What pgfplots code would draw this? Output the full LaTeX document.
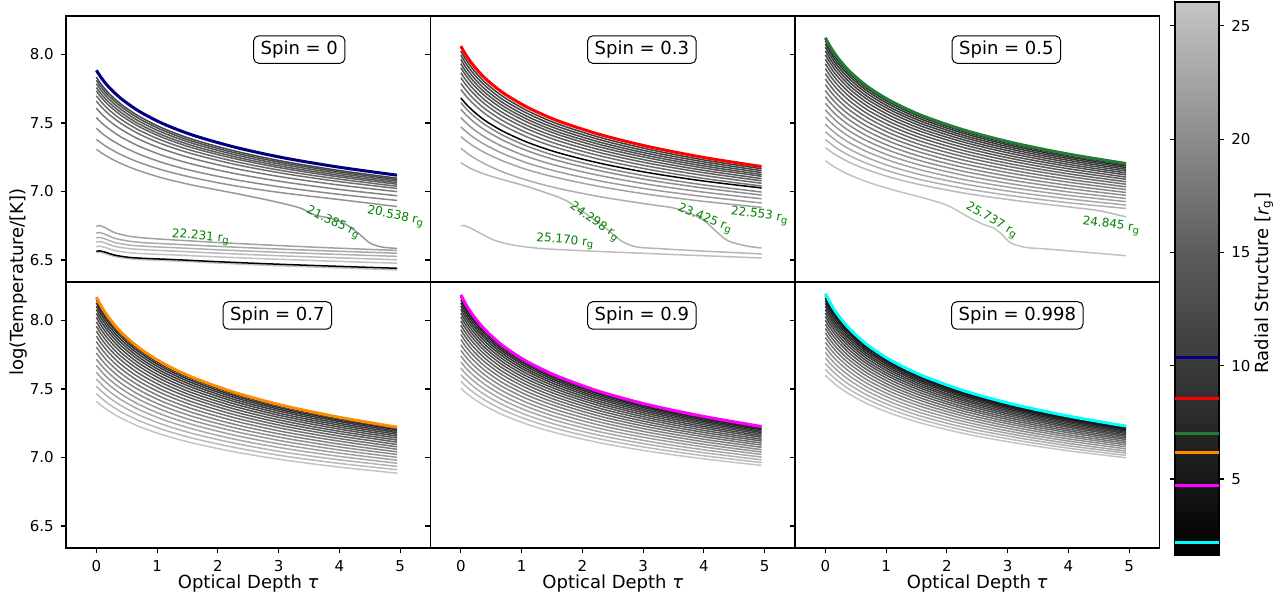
\documentclass[border=0pt]{standalone}
\usepackage{pgfplots}
\pgfplotsset{compat=1.18}
\usepackage{fontspec}
\setmainfont{DejaVu Sans}
\definecolor{cnavy}{RGB}{0,0,128}
\definecolor{cgreen}{RGB}{34,125,55}
\definecolor{corange}{RGB}{255,140,0}
\definecolor{cmag}{RGB}{255,0,255}
\definecolor{ccyan}{RGB}{0,255,255}
\definecolor{cred}{RGB}{255,0,0}
\definecolor{lgreen}{RGB}{0,128,0}
\pgfplotsset{
 colormap={rad}{gray(0pt)=(0); gray(43.5pt)=(0.12); gray(88.5pt)=(0.24); gray(133.5pt)=(0.36); gray(183.5pt)=(0.55); gray(244pt)=(0.77)},
 gl/.style={line width=0.75pt, smooth},
 cl/.style={line width=1.5pt, smooth},
 pan/.style={scale only axis, width=182.25pt, height=133pt, anchor=south west,
   xmin=-0.5, xmax=5.5, ymin=6.34, ymax=8.28, tick align=outside, major tick length=2.6pt,
   axis line style={line width=0.6pt}, tick style={black, line width=0.6pt},
   ytick={6.5,7,7.5,8}, xtick={0,1,2,3,4,5}, xtick pos=bottom, ytick pos=left, no markers,
   ticklabel style={font=\fontsize{7.5}{9}\selectfont}},
 ylab/.style={yticklabels={6.5,7.0,7.5,8.0}},
 noylab/.style={yticklabel=\empty},
 xlab/.style={xticklabels={0,1,2,3,4,5}},
 top/.style={xtick=\empty},
}
\tikzset{
 spin/.style={draw=black, line width=0.5pt, rounded corners=2.5pt, fill=white, inner xsep=3.5pt, inner ysep=2.5pt, font=\fontsize{9}{11}\selectfont},
 lab/.style={text=lgreen, font=\fontsize{6}{7}\selectfont, inner sep=0pt},
 big/.style={font=\fontsize{9}{11}\selectfont},
}
\begin{document}
\begin{tikzpicture}
\useasboundingbox (0,0) rectangle (640.5pt,299.5pt);
% ---------------- Spin 0
\begin{axis}[pan, top, ylab, at={(33pt,158.5pt)}]
\addplot[black!23,gl] coordinates {(0,6.553)(.05,6.557)(.15,6.547)(.3,6.526)(.55,6.509)(.85,6.501)(1.3,6.493)(2,6.478)(2.8,6.462)(3.8,6.446)(4.95,6.428)};
\addplot[black,gl] coordinates {(0,6.563)(.05,6.567)(.15,6.557)(.3,6.536)(.55,6.519)(.85,6.511)(1.3,6.503)(2,6.488)(2.8,6.473)(3.8,6.457)(4.95,6.440)};
\addplot[black!24,gl] coordinates {(0,6.597)(.05,6.601)(.15,6.591)(.3,6.570)(.55,6.553)(.85,6.545)(1.3,6.537)(2,6.523)(2.8,6.509)(3.8,6.493)(4.95,6.477)};
\addplot[black!27,gl] coordinates {(0,6.630)(.05,6.635)(.15,6.624)(.3,6.600)(.55,6.583)(.85,6.574)(1.3,6.565)(2,6.550)(2.8,6.535)(3.8,6.519)(4.95,6.502)};
\addplot[black!31,gl] coordinates {(0,6.660)(.05,6.665)(.15,6.653)(.3,6.628)(.55,6.609)(.85,6.599)(1.3,6.590)(2,6.575)(2.8,6.560)(3.8,6.544)(4.95,6.527)};
\addplot[black!34,gl] coordinates {(0,6.695)(.05,6.701)(.15,6.687)(.3,6.659)(.55,6.637)(.85,6.625)(1.3,6.615)(2,6.600)(2.8,6.584)(3.8,6.567)(4.95,6.550)};
\addplot[black!37,gl] coordinates {(0,6.745)(.05,6.752)(.15,6.735)(.3,6.700)(.55,6.673)(.85,6.659)(1.3,6.646)(2,6.628)(2.8,6.610)(3.8,6.590)(4.95,6.570)};
\addplot[black!40,gl] coordinates {(0,7.308)(.08,7.283)(.2,7.25)(.4,7.205)(.7,7.152)(1.1,7.097)(1.6,7.045)(2.3,6.985)(2.9,6.93)(3.35,6.88)(3.6,6.828)(3.8,6.81)(4.05,6.775)(4.3,6.70)(4.5,6.625)(4.7,6.595)(4.95,6.585)};
\addplot[black!43,gl] coordinates {(0,7.380)(.08,7.353)(.2,7.318)(.4,7.270)(.7,7.213)(1.1,7.155)(1.6,7.100)(2.3,7.040)(3.1,6.988)(4,6.941)(4.95,6.890)};
\addplot[black!46,gl] coordinates {(0,7.461)(.08,7.429)(.2,7.389)(.4,7.336)(.7,7.273)(1.1,7.209)(1.6,7.149)(2.3,7.085)(3.1,7.029)(4,6.979)(4.95,6.935)};
\addplot[black!49,gl] coordinates {(0,7.539)(.08,7.503)(.2,7.459)(.4,7.399)(.7,7.331)(1.1,7.262)(1.6,7.197)(2.3,7.129)(3.1,7.069)(4,7.015)(4.95,6.969)};
\addplot[black!53,gl] coordinates {(0,7.607)(.08,7.568)(.2,7.519)(.4,7.455)(.7,7.381)(1.1,7.308)(1.6,7.239)(2.3,7.166)(3.1,7.103)(4,7.047)(4.95,6.999)};
\addplot[black!56,gl] coordinates {(0,7.660)(.08,7.618)(.2,7.566)(.4,7.498)(.7,7.420)(1.1,7.343)(1.6,7.272)(2.3,7.196)(3.1,7.130)(4,7.072)(4.95,7.022)};
\addplot[black!59,gl] coordinates {(0,7.698)(.08,7.654)(.2,7.599)(.4,7.528)(.7,7.448)(1.1,7.369)(1.6,7.295)(2.3,7.217)(3.1,7.149)(4,7.090)(4.95,7.038)};
\addplot[black!62,gl] coordinates {(0,7.733)(.08,7.687)(.2,7.630)(.4,7.557)(.7,7.474)(1.1,7.392)(1.6,7.316)(2.3,7.237)(3.1,7.167)(4,7.106)(4.95,7.053)};
\addplot[black!65,gl] coordinates {(0,7.758)(.08,7.711)(.2,7.653)(.4,7.578)(.7,7.493)(1.1,7.409)(1.6,7.332)(2.3,7.251)(3.1,7.180)(4,7.118)(4.95,7.064)};
\addplot[black!67,gl] coordinates {(0,7.786)(.08,7.737)(.2,7.677)(.4,7.600)(.7,7.513)(1.1,7.428)(1.6,7.349)(2.3,7.266)(3.1,7.194)(4,7.131)(4.95,7.076)};
\addplot[black!70,gl] coordinates {(0,7.811)(.08,7.761)(.2,7.699)(.4,7.621)(.7,7.532)(1.1,7.445)(1.6,7.364)(2.3,7.280)(3.1,7.207)(4,7.143)(4.95,7.087)};
\addplot[black!72,gl] coordinates {(0,7.834)(.08,7.782)(.2,7.719)(.4,7.639)(.7,7.549)(1.1,7.460)(1.6,7.378)(2.3,7.293)(3.1,7.218)(4,7.153)(4.95,7.097)};
\addplot[cnavy,cl] coordinates {(0,7.884)(.08,7.830)(.2,7.764)(.4,7.680)(.7,7.586)(1.1,7.494)(1.6,7.409)(2.3,7.321)(3.1,7.244)(4,7.177)(4.95,7.119)};
\node[spin] at (axis cs:3.34,8.035) {Spin = 0};
\node[lab,rotate=-5] at (axis cs:1.72,6.665) {22.231 r\textsubscript{g}};
\node[lab,rotate=-25] at (axis cs:3.90,6.770) {21.385 r\textsubscript{g}};
\node[lab,rotate=-12] at (axis cs:4.93,6.815) {20.538 r\textsubscript{g}};
\end{axis}
% ---------------- Spin 0.3
\begin{axis}[pan, top, noylab, at={(215.25pt,158.5pt)}]
\addplot[black!26,gl] coordinates {(0,6.750)(.05,6.752)(.15,6.735)(.3,6.700)(.55,6.645)(.85,6.610)(1.3,6.585)(2,6.568)(2.8,6.553)(3.8,6.535)(4.95,6.515)};
\addplot[black!29,gl] coordinates {(0,7.21)(.08,7.188)(.2,7.16)(.4,7.125)(.7,7.085)(1.1,7.035)(1.6,6.96)(1.75,6.93)(2.05,6.84)(2.35,6.745)(2.55,6.67)(2.7,6.625)(2.9,6.595)(3.2,6.585)(4,6.565)(4.95,6.545)};
\addplot[black!32,gl] coordinates {(0,7.315)(.08,7.287)(.2,7.25)(.4,7.2)(.7,7.141)(1.1,7.081)(1.6,7.023)(2.3,6.961)(3.1,6.906)(3.5,6.88)(3.8,6.835)(4,6.79)(4.2,6.71)(4.4,6.64)(4.7,6.603)(4.95,6.588)};
\addplot[black!36,gl] coordinates {(0,7.400)(.08,7.371)(.2,7.333)(.4,7.282)(.7,7.221)(1.1,7.158)(1.6,7.099)(2.3,7.035)(3.1,6.978)(4,6.928)(4.95,6.884)};
\addplot[black!39,gl] coordinates {(0,7.471)(.08,7.439)(.2,7.397)(.4,7.341)(.7,7.275)(1.1,7.207)(1.6,7.144)(2.3,7.076)(3.1,7.016)(4,6.963)(4.95,6.916)};
\addplot[black!42,gl] coordinates {(0,7.539)(.08,7.503)(.2,7.457)(.4,7.396)(.7,7.325)(1.1,7.253)(1.6,7.186)(2.3,7.115)(3.1,7.051)(4,6.995)(4.95,6.947)};
\addplot[black!45,gl] coordinates {(0,7.600)(.08,7.561)(.2,7.512)(.4,7.447)(.7,7.372)(1.1,7.296)(1.6,7.225)(2.3,7.150)(3.1,7.083)(4,7.025)(4.95,6.974)};
\addplot[black!48,gl] coordinates {(0,7.648)(.08,7.607)(.2,7.555)(.4,7.486)(.7,7.408)(1.1,7.329)(1.6,7.255)(2.3,7.178)(3.1,7.109)(4,7.048)(4.95,6.996)};
\addplot[black!55,gl] coordinates {(0,7.745)(.08,7.699)(.2,7.642)(.4,7.566)(.7,7.481)(1.1,7.396)(1.6,7.317)(2.3,7.233)(3.1,7.160)(4,7.095)(4.95,7.040)};
\addplot[black!58,gl] coordinates {(0,7.789)(.08,7.741)(.2,7.681)(.4,7.602)(.7,7.514)(1.1,7.426)(1.6,7.344)(2.3,7.259)(3.1,7.183)(4,7.117)(4.95,7.060)};
\addplot[black!62,gl] coordinates {(0,7.830)(.08,7.780)(.2,7.718)(.4,7.636)(.7,7.545)(1.1,7.455)(1.6,7.370)(2.3,7.282)(3.1,7.205)(4,7.137)(4.95,7.078)};
\addplot[black!65,gl] coordinates {(0,7.866)(.08,7.814)(.2,7.750)(.4,7.665)(.7,7.572)(1.1,7.479)(1.6,7.393)(2.3,7.303)(3.1,7.224)(4,7.154)(4.95,7.094)};
\addplot[black!67,gl] coordinates {(0,7.902)(.08,7.848)(.2,7.781)(.4,7.695)(.7,7.599)(1.1,7.504)(1.6,7.415)(2.3,7.323)(3.1,7.243)(4,7.171)(4.95,7.111)};
\addplot[black!69,gl] coordinates {(0,7.932)(.08,7.876)(.2,7.809)(.4,7.720)(.7,7.622)(1.1,7.525)(1.6,7.434)(2.3,7.341)(3.1,7.259)(4,7.186)(4.95,7.124)};
\addplot[black!72,gl] coordinates {(0,7.963)(.08,7.906)(.2,7.836)(.4,7.745)(.7,7.645)(1.1,7.546)(1.6,7.454)(2.3,7.358)(3.1,7.275)(4,7.201)(4.95,7.138)};
\addplot[black!74,gl] coordinates {(0,7.994)(.08,7.935)(.2,7.864)(.4,7.771)(.7,7.668)(1.1,7.568)(1.6,7.473)(2.3,7.376)(3.1,7.291)(4,7.216)(4.95,7.152)};
\addplot[black!76,gl] coordinates {(0,8.024)(.08,7.964)(.2,7.891)(.4,7.795)(.7,7.691)(1.1,7.588)(1.6,7.492)(2.3,7.393)(3.1,7.307)(4,7.230)(4.95,7.166)};
\addplot[black,gl] coordinates {(0,7.682)(.08,7.640)(.2,7.588)(.4,7.517)(.7,7.438)(1.1,7.358)(1.6,7.283)(2.3,7.205)(3.1,7.136)(4,7.076)(4.95,7.026)};
\addplot[cred,cl] coordinates {(0,8.060)(.08,7.998)(.2,7.923)(.4,7.825)(.7,7.718)(1.1,7.613)(1.6,7.515)(2.3,7.414)(3.1,7.326)(4,7.248)(4.95,7.182)};
\node[spin] at (axis cs:2.98,8.035) {Spin = 0.3};
\node[lab,rotate=-5] at (axis cs:1.72,6.637) {25.170 r\textsubscript{g}};
\node[lab,rotate=-35] at (axis cs:2.20,6.775) {24.298 r\textsubscript{g}};
\node[lab,rotate=-22] at (axis cs:4.02,6.799) {23.425 r\textsubscript{g}};
\node[lab,rotate=-8] at (axis cs:4.92,6.823) {22.553 r\textsubscript{g}};
\end{axis}
% ---------------- Spin 0.5
\begin{axis}[pan, top, noylab, at={(397.5pt,158.5pt)}]
\addplot[black!24,gl] coordinates {(0,7.224)(.08,7.199)(.2,7.166)(.4,7.121)(.7,7.068)(1.1,7.013)(1.6,6.955)(2,6.9)(2.35,6.815)(2.6,6.76)(2.75,6.738)(2.9,6.69)(3.05,6.625)(3.3,6.592)(3.6,6.582)(4.2,6.56)(4.95,6.532)};
\addplot[black!27,gl] coordinates {(0,7.32)(.08,7.294)(.2,7.259)(.4,7.212)(.7,7.157)(1.1,7.1)(1.6,7.046)(2.3,6.987)(3.1,6.936)(4,6.888)(4.5,6.86)(4.95,6.815)};
\addplot[black!31,gl] coordinates {(0,7.379)(.08,7.351)(.2,7.312)(.4,7.261)(.7,7.202)(1.1,7.141)(1.6,7.083)(2.3,7.021)(3.1,6.967)(4,6.918)(4.95,6.876)};
\addplot[black!34,gl] coordinates {(0,7.436)(.08,7.405)(.2,7.363)(.4,7.308)(.7,7.245)(1.1,7.180)(1.6,7.119)(2.3,7.054)(3.1,6.997)(4,6.946)(4.95,6.901)};
\addplot[black!37,gl] coordinates {(0,7.491)(.08,7.457)(.2,7.413)(.4,7.354)(.7,7.287)(1.1,7.219)(1.6,7.154)(2.3,7.085)(3.1,7.026)(4,6.972)(4.95,6.926)};
\addplot[black!40,gl] coordinates {(0,7.544)(.08,7.508)(.2,7.460)(.4,7.398)(.7,7.327)(1.1,7.255)(1.6,7.188)(2.3,7.116)(3.1,7.053)(4,6.997)(4.95,6.949)};
\addplot[black!44,gl] coordinates {(0,7.596)(.08,7.557)(.2,7.506)(.4,7.440)(.7,7.366)(1.1,7.291)(1.6,7.220)(2.3,7.145)(3.1,7.080)(4,7.022)(4.95,6.972)};
\addplot[black!47,gl] coordinates {(0,7.644)(.08,7.603)(.2,7.550)(.4,7.481)(.7,7.402)(1.1,7.324)(1.6,7.251)(2.3,7.173)(3.1,7.105)(4,7.045)(4.95,6.993)};
\addplot[black!50,gl] coordinates {(0,7.692)(.08,7.648)(.2,7.593)(.4,7.520)(.7,7.438)(1.1,7.357)(1.6,7.281)(2.3,7.200)(3.1,7.130)(4,7.068)(4.95,7.014)};
\addplot[black!54,gl] coordinates {(0,7.737)(.08,7.691)(.2,7.633)(.4,7.557)(.7,7.472)(1.1,7.388)(1.6,7.309)(2.3,7.226)(3.1,7.153)(4,7.089)(4.95,7.034)};
\addplot[black!57,gl] coordinates {(0,7.780)(.08,7.732)(.2,7.672)(.4,7.593)(.7,7.505)(1.1,7.418)(1.6,7.336)(2.3,7.251)(3.1,7.176)(4,7.110)(4.95,7.053)};
\addplot[black!60,gl] coordinates {(0,7.821)(.08,7.771)(.2,7.708)(.4,7.627)(.7,7.536)(1.1,7.446)(1.6,7.362)(2.3,7.274)(3.1,7.197)(4,7.129)(4.95,7.071)};
\addplot[black!64,gl] coordinates {(0,7.860)(.08,7.808)(.2,7.744)(.4,7.660)(.7,7.565)(1.1,7.473)(1.6,7.387)(2.3,7.296)(3.1,7.218)(4,7.148)(4.95,7.089)};
\addplot[black!66,gl] coordinates {(0,7.897)(.08,7.843)(.2,7.777)(.4,7.690)(.7,7.593)(1.1,7.499)(1.6,7.410)(2.3,7.318)(3.1,7.237)(4,7.166)(4.95,7.105)};
\addplot[black!69,gl] coordinates {(0,7.932)(.08,7.877)(.2,7.808)(.4,7.719)(.7,7.620)(1.1,7.523)(1.6,7.433)(2.3,7.338)(3.1,7.255)(4,7.183)(4.95,7.121)};
\addplot[black!71,gl] coordinates {(0,7.965)(.08,7.908)(.2,7.838)(.4,7.747)(.7,7.645)(1.1,7.546)(1.6,7.453)(2.3,7.357)(3.1,7.273)(4,7.198)(4.95,7.135)};
\addplot[black!73,gl] coordinates {(0,7.996)(.08,7.938)(.2,7.866)(.4,7.772)(.7,7.669)(1.1,7.568)(1.6,7.473)(2.3,7.374)(3.1,7.289)(4,7.213)(4.95,7.149)};
\addplot[black!76,gl] coordinates {(0,8.025)(.08,7.965)(.2,7.892)(.4,7.796)(.7,7.690)(1.1,7.588)(1.6,7.491)(2.3,7.391)(3.1,7.304)(4,7.227)(4.95,7.162)};
\addplot[black!78,gl] coordinates {(0,8.052)(.08,7.991)(.2,7.916)(.4,7.819)(.7,7.711)(1.1,7.606)(1.6,7.508)(2.3,7.406)(3.1,7.318)(4,7.240)(4.95,7.174)};
\addplot[black!81,gl] coordinates {(0,8.077)(.08,8.015)(.2,7.938)(.4,7.840)(.7,7.730)(1.1,7.624)(1.6,7.524)(2.3,7.421)(3.1,7.331)(4,7.252)(4.95,7.185)};
\addplot[black!83,gl] coordinates {(0,8.100)(.08,8.037)(.2,7.959)(.4,7.859)(.7,7.747)(1.1,7.640)(1.6,7.539)(2.3,7.434)(3.1,7.343)(4,7.263)(4.95,7.195)};
\addplot[cgreen,cl] coordinates {(0,8.121)(.08,8.057)(.2,7.978)(.4,7.876)(.7,7.763)(1.1,7.654)(1.6,7.552)(2.3,7.446)(3.1,7.354)(4,7.273)(4.95,7.204)};
\node[spin] at (axis cs:2.98,8.035) {Spin = 0.5};
\node[lab,rotate=-30] at (axis cs:2.74,6.787) {25.737 r\textsubscript{g}};
\node[lab,rotate=-8] at (axis cs:4.71,6.75) {24.845 r\textsubscript{g}};
\end{axis}
% ---------------- Spin 0.7
\begin{axis}[pan, ylab, xlab, at={(33pt,25.5pt)}]
\addplot[black!23,gl] coordinates {(0,7.409)(.08,7.380)(.2,7.341)(.4,7.289)(.7,7.227)(1.1,7.164)(1.6,7.104)(2.3,7.039)(3.1,6.981)(4,6.930)(4.95,6.886)};
\addplot[black!27,gl] coordinates {(0,7.465)(.08,7.434)(.2,7.391)(.4,7.335)(.7,7.269)(1.1,7.203)(1.6,7.139)(2.3,7.071)(3.1,7.010)(4,6.957)(4.95,6.911)};
\addplot[black!30,gl] coordinates {(0,7.519)(.08,7.485)(.2,7.440)(.4,7.380)(.7,7.310)(1.1,7.240)(1.6,7.173)(2.3,7.102)(3.1,7.038)(4,6.983)(4.95,6.935)};
\addplot[black!34,gl] coordinates {(0,7.572)(.08,7.535)(.2,7.487)(.4,7.423)(.7,7.350)(1.1,7.276)(1.6,7.206)(2.3,7.131)(3.1,7.066)(4,7.008)(4.95,6.958)};
\addplot[black!38,gl] coordinates {(0,7.622)(.08,7.582)(.2,7.532)(.4,7.465)(.7,7.387)(1.1,7.310)(1.6,7.238)(2.3,7.160)(3.1,7.092)(4,7.032)(4.95,6.980)};
\addplot[black!41,gl] coordinates {(0,7.671)(.08,7.629)(.2,7.575)(.4,7.505)(.7,7.424)(1.1,7.344)(1.6,7.268)(2.3,7.188)(3.1,7.117)(4,7.055)(4.95,7.001)};
\addplot[black!45,gl] coordinates {(0,7.717)(.08,7.673)(.2,7.617)(.4,7.543)(.7,7.459)(1.1,7.375)(1.6,7.297)(2.3,7.214)(3.1,7.141)(4,7.077)(4.95,7.022)};
\addplot[black!49,gl] coordinates {(0,7.762)(.08,7.716)(.2,7.657)(.4,7.580)(.7,7.493)(1.1,7.406)(1.6,7.325)(2.3,7.239)(3.1,7.164)(4,7.098)(4.95,7.041)};
\addplot[black!52,gl] coordinates {(0,7.805)(.08,7.756)(.2,7.695)(.4,7.615)(.7,7.525)(1.1,7.435)(1.6,7.352)(2.3,7.264)(3.1,7.186)(4,7.119)(4.95,7.060)};
\addplot[black!56,gl] coordinates {(0,7.846)(.08,7.795)(.2,7.732)(.4,7.649)(.7,7.556)(1.1,7.464)(1.6,7.378)(2.3,7.287)(3.1,7.208)(4,7.138)(4.95,7.078)};
\addplot[black!60,gl] coordinates {(0,7.885)(.08,7.832)(.2,7.767)(.4,7.681)(.7,7.585)(1.1,7.490)(1.6,7.402)(2.3,7.309)(3.1,7.228)(4,7.157)(4.95,7.095)};
\addplot[black!64,gl] coordinates {(0,7.922)(.08,7.867)(.2,7.800)(.4,7.712)(.7,7.613)(1.1,7.516)(1.6,7.426)(2.3,7.330)(3.1,7.247)(4,7.175)(4.95,7.112)};
\addplot[black!66,gl] coordinates {(0,7.957)(.08,7.901)(.2,7.831)(.4,7.740)(.7,7.640)(1.1,7.540)(1.6,7.447)(2.3,7.350)(3.1,7.265)(4,7.191)(4.95,7.127)};
\addplot[black!69,gl] coordinates {(0,7.990)(.08,7.932)(.2,7.861)(.4,7.768)(.7,7.665)(1.1,7.563)(1.6,7.468)(2.3,7.369)(3.1,7.283)(4,7.207)(4.95,7.142)};
\addplot[black!72,gl] coordinates {(0,8.022)(.08,7.962)(.2,7.889)(.4,7.794)(.7,7.688)(1.1,7.584)(1.6,7.488)(2.3,7.387)(3.1,7.299)(4,7.222)(4.95,7.156)};
\addplot[black!74,gl] coordinates {(0,8.051)(.08,7.990)(.2,7.916)(.4,7.818)(.7,7.711)(1.1,7.605)(1.6,7.507)(2.3,7.404)(3.1,7.314)(4,7.236)(4.95,7.169)};
\addplot[black!77,gl] coordinates {(0,8.079)(.08,8.016)(.2,7.940)(.4,7.841)(.7,7.731)(1.1,7.623)(1.6,7.524)(2.3,7.419)(3.1,7.329)(4,7.249)(4.95,7.181)};
\addplot[black!80,gl] coordinates {(0,8.105)(.08,8.041)(.2,7.963)(.4,7.862)(.7,7.751)(1.1,7.641)(1.6,7.540)(2.3,7.434)(3.1,7.342)(4,7.262)(4.95,7.192)};
\addplot[black!82,gl] coordinates {(0,8.128)(.08,8.063)(.2,7.985)(.4,7.882)(.7,7.769)(1.1,7.657)(1.6,7.555)(2.3,7.447)(3.1,7.354)(4,7.273)(4.95,7.203)};
\addplot[black!85,gl] coordinates {(0,8.150)(.08,8.084)(.2,8.004)(.4,7.900)(.7,7.785)(1.1,7.672)(1.6,7.569)(2.3,7.460)(3.1,7.366)(4,7.284)(4.95,7.212)};
\addplot[corange,cl] coordinates {(0,8.170)(.08,8.103)(.2,8.022)(.4,7.916)(.7,7.800)(1.1,7.686)(1.6,7.581)(2.3,7.471)(3.1,7.376)(4,7.293)(4.95,7.221)};
\node[spin] at (axis cs:2.98,8.036) {Spin = 0.7};
\end{axis}
% ---------------- Spin 0.9
\begin{axis}[pan, noylab, xlab, at={(215.25pt,25.5pt)}]
\addplot[black!23,gl] coordinates {(0,7.505)(.08,7.473)(.2,7.432)(.4,7.376)(.7,7.309)(1.1,7.241)(1.6,7.176)(2.3,7.106)(3.1,7.045)(4,6.990)(4.95,6.942)};
\addplot[black!27,gl] coordinates {(0,7.556)(.08,7.521)(.2,7.477)(.4,7.417)(.7,7.346)(1.1,7.275)(1.6,7.207)(2.3,7.134)(3.1,7.070)(4,7.013)(4.95,6.963)};
\addplot[black!31,gl] coordinates {(0,7.604)(.08,7.567)(.2,7.520)(.4,7.456)(.7,7.382)(1.1,7.307)(1.6,7.236)(2.3,7.160)(3.1,7.094)(4,7.035)(4.95,6.983)};
\addplot[black!35,gl] coordinates {(0,7.651)(.08,7.611)(.2,7.562)(.4,7.495)(.7,7.417)(1.1,7.339)(1.6,7.265)(2.3,7.186)(3.1,7.117)(4,7.056)(4.95,7.003)};
\addplot[black!39,gl] coordinates {(0,7.696)(.08,7.654)(.2,7.601)(.4,7.531)(.7,7.450)(1.1,7.369)(1.6,7.292)(2.3,7.210)(3.1,7.140)(4,7.077)(4.95,7.022)};
\addplot[black!43,gl] coordinates {(0,7.740)(.08,7.695)(.2,7.640)(.4,7.567)(.7,7.482)(1.1,7.398)(1.6,7.319)(2.3,7.234)(3.1,7.161)(4,7.096)(4.95,7.040)};
\addplot[black!47,gl] coordinates {(0,7.781)(.08,7.735)(.2,7.677)(.4,7.600)(.7,7.513)(1.1,7.426)(1.6,7.344)(2.3,7.257)(3.1,7.182)(4,7.115)(4.95,7.057)};
\addplot[black!51,gl] coordinates {(0,7.821)(.08,7.773)(.2,7.713)(.4,7.633)(.7,7.542)(1.1,7.453)(1.6,7.369)(2.3,7.279)(3.1,7.202)(4,7.133)(4.95,7.074)};
\addplot[black!55,gl] coordinates {(0,7.860)(.08,7.809)(.2,7.747)(.4,7.664)(.7,7.571)(1.1,7.478)(1.6,7.392)(2.3,7.300)(3.1,7.221)(4,7.151)(4.95,7.090)};
\addplot[black!59,gl] coordinates {(0,7.897)(.08,7.844)(.2,7.779)(.4,7.694)(.7,7.598)(1.1,7.503)(1.6,7.414)(2.3,7.320)(3.1,7.239)(4,7.167)(4.95,7.105)};
\addplot[black!63,gl] coordinates {(0,7.931)(.08,7.877)(.2,7.810)(.4,7.722)(.7,7.623)(1.1,7.526)(1.6,7.435)(2.3,7.339)(3.1,7.256)(4,7.183)(4.95,7.120)};
\addplot[black!66,gl] coordinates {(0,7.965)(.08,7.908)(.2,7.840)(.4,7.749)(.7,7.648)(1.1,7.548)(1.6,7.456)(2.3,7.357)(3.1,7.273)(4,7.198)(4.95,7.133)};
\addplot[black!69,gl] coordinates {(0,7.996)(.08,7.938)(.2,7.868)(.4,7.775)(.7,7.671)(1.1,7.569)(1.6,7.475)(2.3,7.375)(3.1,7.288)(4,7.213)(4.95,7.147)};
\addplot[black!72,gl] coordinates {(0,8.026)(.08,7.967)(.2,7.894)(.4,7.799)(.7,7.693)(1.1,7.589)(1.6,7.493)(2.3,7.391)(3.1,7.303)(4,7.226)(4.95,7.159)};
\addplot[black!74,gl] coordinates {(0,8.054)(.08,7.993)(.2,7.919)(.4,7.822)(.7,7.714)(1.1,7.608)(1.6,7.510)(2.3,7.406)(3.1,7.317)(4,7.239)(4.95,7.171)};
\addplot[black!77,gl] coordinates {(0,8.081)(.08,8.018)(.2,7.943)(.4,7.844)(.7,7.734)(1.1,7.626)(1.6,7.526)(2.3,7.421)(3.1,7.330)(4,7.251)(4.95,7.182)};
\addplot[black!80,gl] coordinates {(0,8.105)(.08,8.042)(.2,7.964)(.4,7.864)(.7,7.752)(1.1,7.642)(1.6,7.541)(2.3,7.434)(3.1,7.342)(4,7.262)(4.95,7.192)};
\addplot[black!83,gl] coordinates {(0,8.128)(.08,8.063)(.2,7.985)(.4,7.882)(.7,7.769)(1.1,7.658)(1.6,7.555)(2.3,7.447)(3.1,7.354)(4,7.272)(4.95,7.202)};
\addplot[black!86,gl] coordinates {(0,8.150)(.08,8.084)(.2,8.004)(.4,7.900)(.7,7.784)(1.1,7.672)(1.6,7.568)(2.3,7.459)(3.1,7.364)(4,7.282)(4.95,7.210)};
\addplot[black!89,gl] coordinates {(0,8.169)(.08,8.102)(.2,8.021)(.4,7.916)(.7,7.799)(1.1,7.685)(1.6,7.580)(2.3,7.469)(3.1,7.374)(4,7.291)(4.95,7.219)};
\addplot[cmag,cl] coordinates {(0,8.187)(.08,8.119)(.2,8.037)(.4,7.930)(.7,7.812)(1.1,7.697)(1.6,7.591)(2.3,7.479)(3.1,7.383)(4,7.299)(4.95,7.226)};
\node[spin] at (axis cs:2.98,8.036) {Spin = 0.9};
\end{axis}
% ---------------- Spin 0.998
\begin{axis}[pan, noylab, xlab, at={(397.5pt,25.5pt)}]
\addplot[black!23,gl] coordinates {(0,7.599)(.08,7.565)(.2,7.521)(.4,7.461)(.7,7.390)(1.1,7.318)(1.6,7.248)(2.3,7.173)(3.1,7.108)(4,7.049)(4.95,6.998)};
\addplot[black!27,gl] coordinates {(0,7.643)(.08,7.607)(.2,7.560)(.4,7.496)(.7,7.422)(1.1,7.347)(1.6,7.274)(2.3,7.196)(3.1,7.129)(4,7.068)(4.95,7.015)};
\addplot[black!32,gl] coordinates {(0,7.685)(.08,7.647)(.2,7.597)(.4,7.530)(.7,7.452)(1.1,7.374)(1.6,7.298)(2.3,7.218)(3.1,7.149)(4,7.086)(4.95,7.032)};
\addplot[black!36,gl] coordinates {(0,7.727)(.08,7.685)(.2,7.633)(.4,7.563)(.7,7.482)(1.1,7.400)(1.6,7.322)(2.3,7.240)(3.1,7.168)(4,7.103)(4.95,7.047)};
\addplot[black!40,gl] coordinates {(0,7.766)(.08,7.722)(.2,7.667)(.4,7.594)(.7,7.510)(1.1,7.426)(1.6,7.345)(2.3,7.260)(3.1,7.186)(4,7.120)(4.95,7.063)};
\addplot[black!45,gl] coordinates {(0,7.804)(.08,7.758)(.2,7.701)(.4,7.625)(.7,7.537)(1.1,7.450)(1.6,7.368)(2.3,7.280)(3.1,7.204)(4,7.136)(4.95,7.078)};
\addplot[black!49,gl] coordinates {(0,7.840)(.08,7.793)(.2,7.733)(.4,7.654)(.7,7.563)(1.1,7.474)(1.6,7.389)(2.3,7.299)(3.1,7.221)(4,7.152)(4.95,7.092)};
\addplot[black!54,gl] coordinates {(0,7.876)(.08,7.826)(.2,7.764)(.4,7.682)(.7,7.589)(1.1,7.497)(1.6,7.410)(2.3,7.317)(3.1,7.238)(4,7.166)(4.95,7.105)};
\addplot[black!58,gl] coordinates {(0,7.909)(.08,7.857)(.2,7.793)(.4,7.709)(.7,7.613)(1.1,7.518)(1.6,7.429)(2.3,7.335)(3.1,7.253)(4,7.181)(4.95,7.118)};
\addplot[black!63,gl] coordinates {(0,7.941)(.08,7.888)(.2,7.821)(.4,7.734)(.7,7.636)(1.1,7.539)(1.6,7.448)(2.3,7.352)(3.1,7.268)(4,7.194)(4.95,7.131)};
\addplot[black!66,gl] coordinates {(0,7.972)(.08,7.916)(.2,7.848)(.4,7.759)(.7,7.658)(1.1,7.559)(1.6,7.466)(2.3,7.367)(3.1,7.282)(4,7.207)(4.95,7.142)};
\addplot[black!70,gl] coordinates {(0,8.001)(.08,7.944)(.2,7.874)(.4,7.782)(.7,7.679)(1.1,7.578)(1.6,7.483)(2.3,7.383)(3.1,7.296)(4,7.220)(4.95,7.154)};
\addplot[black!73,gl] coordinates {(0,8.028)(.08,7.970)(.2,7.898)(.4,7.804)(.7,7.698)(1.1,7.595)(1.6,7.499)(2.3,7.397)(3.1,7.309)(4,7.231)(4.95,7.164)};
\addplot[black!76,gl] coordinates {(0,8.054)(.08,7.994)(.2,7.921)(.4,7.825)(.7,7.717)(1.1,7.612)(1.6,7.514)(2.3,7.411)(3.1,7.321)(4,7.242)(4.95,7.175)};
\addplot[black!79,gl] coordinates {(0,8.079)(.08,8.017)(.2,7.942)(.4,7.844)(.7,7.735)(1.1,7.628)(1.6,7.528)(2.3,7.423)(3.1,7.333)(4,7.253)(4.95,7.184)};
\addplot[black!82,gl] coordinates {(0,8.102)(.08,8.039)(.2,7.962)(.4,7.863)(.7,7.751)(1.1,7.643)(1.6,7.542)(2.3,7.436)(3.1,7.344)(4,7.263)(4.95,7.193)};
\addplot[black!85,gl] coordinates {(0,8.124)(.08,8.060)(.2,7.981)(.4,7.880)(.7,7.767)(1.1,7.657)(1.6,7.554)(2.3,7.447)(3.1,7.354)(4,7.272)(4.95,7.201)};
\addplot[black!89,gl] coordinates {(0,8.144)(.08,8.079)(.2,7.999)(.4,7.896)(.7,7.781)(1.1,7.670)(1.6,7.566)(2.3,7.457)(3.1,7.363)(4,7.280)(4.95,7.209)};
\addplot[black!92,gl] coordinates {(0,8.162)(.08,8.096)(.2,8.015)(.4,7.911)(.7,7.795)(1.1,7.682)(1.6,7.577)(2.3,7.467)(3.1,7.372)(4,7.288)(4.95,7.216)};
\addplot[black!95,gl] coordinates {(0,8.180)(.08,8.112)(.2,8.030)(.4,7.925)(.7,7.807)(1.1,7.693)(1.6,7.587)(2.3,7.476)(3.1,7.380)(4,7.295)(4.95,7.223)};
\addplot[ccyan,cl] coordinates {(0,8.195)(.08,8.127)(.2,8.044)(.4,7.937)(.7,7.818)(1.1,7.703)(1.6,7.596)(2.3,7.484)(3.1,7.387)(4,7.302)(4.95,7.229)};
\node[spin] at (axis cs:3.16,8.036) {Spin = 0.998};
\end{axis}
% ---------------- colorbar
\begin{axis}[at={(587.5pt,22pt)}, anchor=south west, scale only axis, width=22pt, height=276.5pt,
  hide axis, xmin=0, xmax=1, ymin=1.65, ymax=26.05, colormap name=rad,
  point meta min=1.65, point meta max=26.05, colorbar, colorbar shift/.style={},
  colorbar/width=22pt,
  colorbar style={at={(parent axis.south west)}, anchor=south west, width=22pt, height=276.5pt,
    xmin=0, xmax=1, enlargelimits=false,
    ytick={5,10,15,20,25}, yticklabels={5,10,15,20,25}, tick align=outside, major tick length=2.6pt,
    tick style={black, line width=0.6pt}, axis line style={line width=0.6pt},
    yticklabel style={font=\fontsize{7.5}{9}\selectfont}}]
\addplot[draw=none] coordinates {(0,5) (1,20)};
\end{axis}
\begin{axis}[at={(587.5pt,22pt)}, anchor=south west, scale only axis, width=22pt, height=276.5pt,
  hide axis, xmin=0, xmax=1, ymin=1.65, ymax=26.05, no markers]
\addplot[cnavy, line width=1.5pt] coordinates {(0,10.35) (1,10.35)};
\addplot[cred, line width=1.5pt] coordinates {(0,8.57) (1,8.57)};
\addplot[cgreen, line width=1.5pt] coordinates {(0,6.99) (1,6.99)};
\addplot[corange, line width=1.5pt] coordinates {(0,6.18) (1,6.18)};
\addplot[cmag, line width=1.5pt] coordinates {(0,4.70) (1,4.70)};
\addplot[ccyan, line width=1.5pt] coordinates {(0,2.22) (1,2.22)};
\end{axis}
% ---------------- labels
\node[big, rotate=90] at (9.25pt,158.5pt) {log(Temperature/[K])};
\node[big] at (124.1pt,7.8pt) {Optical Depth {\itshape τ}};
\node[big] at (306.4pt,7.8pt) {Optical Depth {\itshape τ}};
\node[big] at (488.6pt,7.8pt) {Optical Depth {\itshape τ}};
\node[big, rotate=90] at (632pt,158pt) {Radial Structure [{\itshape r}\textsubscript{g}]};
\end{tikzpicture}
\end{document}
